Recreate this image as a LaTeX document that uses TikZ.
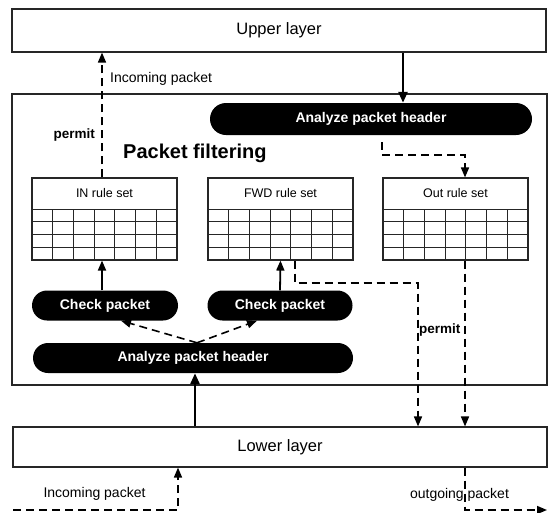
\documentclass[tikz,border=0pt]{standalone}
\usepackage{fontspec}
\setmainfont{Liberation Sans}
\usetikzlibrary{arrows.meta}
\tikzset{
  frame/.style={draw=black!85, line width=1.1pt, inner sep=0pt},
  layer/.style={frame, font=\fontsize{16.5}{18}\selectfont},
  bubble/.style={fill=black, rounded corners=15pt, text=white, inner sep=0pt, font=\bfseries\fontsize{14}{16}\selectfont},
  gridline/.style={draw=black!85, line width=1pt},
  lab/.style={font=\fontsize{14}{16}\selectfont, inner sep=0pt},
  boldlab/.style={font=\bfseries\fontsize{13.5}{15}\selectfont, inner sep=0pt},
  rulelab/.style={font=\fontsize{12.5}{14}\selectfont, inner sep=0pt},
  solidarrow/.style={line width=2.6pt, -{Triangle[length=11pt,width=9pt]}},
  midarrow/.style={line width=1.8pt, -{Triangle[length=10pt,width=8pt]}},
  dasharrow/.style={line width=1.6pt, dash pattern=on 8pt off 5pt, -{Triangle[length=10pt,width=8pt]}},
}
\begin{document}
\begin{tikzpicture}[x=1pt, y=-1pt]
\fill[white] (0,0) rectangle (552,512);
\useasboundingbox (0,0) rectangle (552,512);

% main boxes
\node[layer, minimum width=534pt, minimum height=43pt] (upper) at (279,30.5) {Upper layer};
\node[frame, minimum width=535pt, minimum height=291pt] (pf) at (279.5,239.5) {};
\node[layer, minimum width=534pt, minimum height=40pt] (lower) at (280,447) {Lower layer};

% bubbles
\node[bubble, minimum width=322pt, minimum height=32pt, rounded corners=16pt] (atop) at (371,119) {Analyze packet header};
\node[bubble, minimum width=320pt, minimum height=30pt] (abot) at (193,358) {Analyze packet header};
\node[bubble, minimum width=146pt, minimum height=30pt] (chkL) at (105,305.5) {Check packet};
\node[bubble, minimum width=145pt, minimum height=30pt] (chkR) at (280,305.5) {Check packet};

% rule sets
\foreach \nm/\lx/\lab in {inrule/32/IN rule set, fwdrule/208/FWD rule set, outrule/383/Out rule set} {
  \node[frame, minimum width=145pt, minimum height=82pt] (\nm) at (\lx+72.5,219) {};
  \node[rulelab] (\nm-t) at (\lx+72.5,193.5) {\lab};
  \draw[gridline] (\lx,209) -- (\lx+145,209);
  \foreach \r in {1,2,3} \draw[gridline] (\lx,209+\r*12.75) -- (\lx+145,209+\r*12.75);
  \foreach \c in {1,...,6} \draw[gridline] (\lx+\c*20.714,209) -- (\lx+\c*20.714,260);
}

% labels
\node[lab, anchor=west] (inctop) at (110,79) {Incoming packet};
\node[boldlab, anchor=east] (permL) at (95,135) {permit};
\node[font=\bfseries\fontsize{20}{22}\selectfont, anchor=west, inner sep=0pt] (pftitle) at (123,153) {Packet filtering};
\node[boldlab, anchor=west] (permR) at (419,330) {permit};
\node[lab] (incbot) at (94.5,494) {Incoming packet};
\node[lab] (outbot) at (459.5,495) {outgoing packet};

% helper coordinates
\coordinate (xin) at (102,0);
\coordinate (xdn) at (403,0);
\coordinate (ta1) at (382,155);
\coordinate (ta2) at (465,155);
\coordinate (tf1) at (295,283);
\coordinate (tf2) at (418,283);
\coordinate (xbot) at (195,0);
\coordinate (xinc) at (178,0);
\coordinate (inc0) at (13,510);
\coordinate (out1) at (547,510);
\coordinate (tl) at (121,0);
\coordinate (tr) at (257,0);

% connectors
\draw[solidarrow] (upper.south -| xdn) -- (atop.north -| xdn);
\draw[solidarrow] (lower.north -| xbot) -- (abot.south -| xbot);
\draw[midarrow] (chkL.north -| xin) -- (inrule.south -| xin);
\draw[midarrow] (chkR.north) -- (fwdrule.south);
\draw[dasharrow] (inrule.north -| xin) -- (upper.south -| xin);
\draw[dasharrow, shorten <=7pt] (atop.south -| ta1) -- (ta1) -- (ta2) -- (outrule.north -| ta2);
\draw[dasharrow] (fwdrule.south -| tf1) -- (tf1) -- (tf2) -- (lower.north -| tf2);
\draw[dasharrow] (outrule.south -| ta2) -- (lower.north -| ta2);
\draw[dasharrow] ([xshift=4pt]abot.north) -- (chkL.south -| tl);
\draw[dasharrow] ([xshift=4pt]abot.north) -- (chkR.south -| tr);
\draw[dasharrow] (inc0) -| (lower.south -| xinc);
\draw[dasharrow] (lower.south -| ta2) |- (out1);
\end{tikzpicture}
\end{document}
